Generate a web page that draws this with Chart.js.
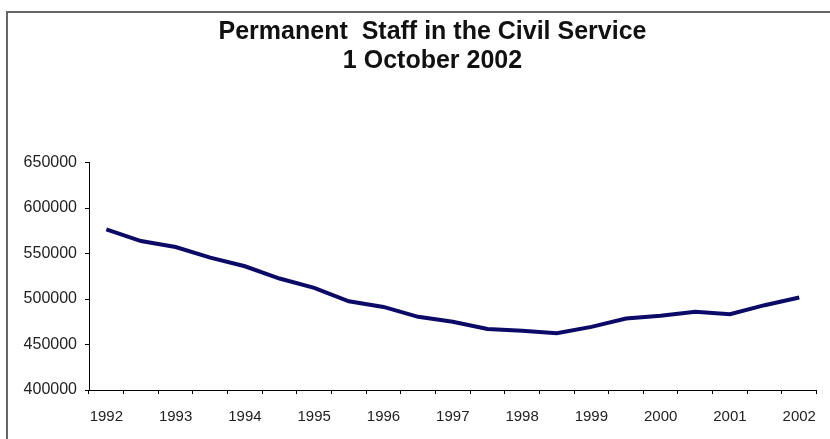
<!DOCTYPE html>
<html>
<head>
<meta charset="utf-8">
<script src="https://cdn.jsdelivr.net/npm/chart.js@4/dist/chart.umd.min.js"></script>
<style>
  html, body { margin: 0; padding: 0; background: #fff; }
  #wrap { position: relative; width: 830px; height: 439px; overflow: hidden; }
  #frame { position: absolute; left: 6px; top: 11px; right: -10px; bottom: -10px;
           border-left: 2px solid #666; border-top: 2px solid #666; }
  canvas { position: absolute; left: 0; top: 0; }
</style>
</head>
<body>
<div id="wrap">
  <div id="frame"></div>
  <canvas id="chart" width="830" height="439"></canvas>
</div>
<script>
// half-yearly figures, one label per year
const periods = ['1992', '', '1993', '', '1994', '', '1995', '', '1996', '', '1997', '',
                 '1998', '', '1999', '', '2000', '', '2001', '', '2002'];
const staff = [576500, 563700, 557100, 545500, 536000, 522500, 512200, 497500, 491300, 480400,
               474900, 467000, 465000, 462500, 469400, 478600, 481500, 485900, 483300, 493200, 501600];
const titleLines = ['Permanent  Staff in the Civil Service', '1 October 2002'];

const ctx = document.getElementById('chart').getContext('2d');

// the original title sits a bit right of the canvas centre
const shiftTitle = {
    id: 'shiftTitle',
    afterLayout(chart) {
        if (chart.titleBlock) chart.titleBlock.left = 38;
    }
};

new Chart(ctx, {
    type: 'line',
    data: {
        labels: periods.map((p, i) => p || ('h' + i)),
        datasets: [{
            data: staff,
            borderColor: '#0b0a66',
            borderWidth: 4,
            pointRadius: 0,
            tension: 0,
            fill: false
        }]
    },
    plugins: [shiftTitle],
    options: {
        responsive: false,
        animation: false,
        layout: { padding: { left: 0, right: 3, top: 0, bottom: 0 } },
        plugins: {
            legend: { display: false },
            tooltip: { enabled: false },
            title: {
                display: true,
                text: titleLines,
                color: '#111',
                font: { family: 'Liberation Sans', size: 25, weight: 'bold', lineHeight: 1.17 },
                padding: { top: 17, bottom: 87 }
            }
        },
        scales: {
            x: {
                offset: true,
                grid: { offset: true, drawOnChartArea: false, drawTicks: true, tickLength: 4, color: '#000' },
                border: { display: true, color: '#000', width: 1 },
                ticks: {
                    autoSkip: false,
                    maxRotation: 0,
                    padding: 14,
                    color: '#222',
                    font: { family: 'Liberation Sans', size: 15 },
                    callback: (v, i) => periods[i]
                },
                afterFit: s => { s.height = 49; }
            },
            y: {
                min: 400000,
                max: 650000,
                grid: { drawOnChartArea: false, drawTicks: true, tickLength: 4, color: '#000' },
                border: { display: true, color: '#000', width: 1 },
                ticks: {
                    stepSize: 50000,
                    padding: 8,
                    color: '#222',
                    font: { family: 'Liberation Sans', size: 16 },
                    callback: v => String(v)
                },
                afterFit: s => { s.width = 89; }
            }
        }
    }
});
</script>
</body>
</html>
